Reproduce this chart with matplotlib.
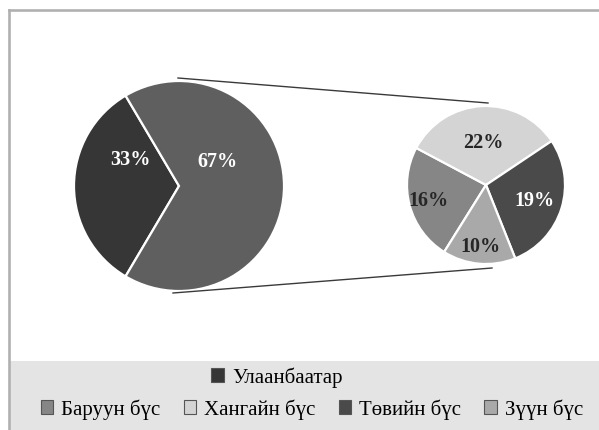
"""
plot.py - pie-of-pie chart (Улаанбаатар vs regions), saved to out.png
"""

import numpy as np
import matplotlib
matplotlib.use("Agg")
import matplotlib.pyplot as plt
from matplotlib.patches import Patch, Rectangle

# ---------------------------
# Data
# ---------------------------
main_labels = ["Улаанбаатар", "Бусад бүс"]
main_values = [33, 67]
main_colors = ["#363636", "#5f5f5f"]

region_labels = ["Баруун бүс", "Хангайн бүс", "Төвийн бүс", "Зүүн бүс"]
region_values = [16, 22, 19, 10]
region_colors = ["#868686", "#d4d4d4", "#4a4a4a", "#a9a9a9"]
region_text_colors = ["#262626", "#262626", "white", "#262626"]
region_label_dist = [0.75, 0.55, 0.64, 0.77]

# ---------------------------
# Layout (pixels, y measured upward)
# ---------------------------
W, H = 599, 431
left_center = (179, H - 187)
left_radius = 105
right_center = (486, H - 186)
right_radius = 79

SERIF = ["Liberation Serif", "DejaVu Serif"]


def main():
    fig = plt.figure(figsize=(W / 100, H / 100), dpi=100)
    ax = fig.add_axes([0, 0, 1, 1])

    # chart frame and legend band
    ax.add_patch(Rectangle((9, 0), W - 9, H - 362, facecolor="#e4e4e4",
                           edgecolor="none", zorder=0))
    ax.plot([8.7, 8.7], [0, H - 10.7], color="#b0b0b0", lw=1.9,
            solid_capstyle="projecting", zorder=1)
    ax.plot([8.7, W], [H - 10.7, H - 10.7], color="#b0b0b0", lw=1.9,
            solid_capstyle="projecting", zorder=1)

    # left pie: the 67% slice is centred on the right side
    start = 180 - main_values[0] / sum(main_values) * 360 / 2
    ax.pie(main_values, colors=main_colors, startangle=start,
           center=left_center, radius=left_radius,
           wedgeprops=dict(edgecolor="white", linewidth=1.6))

    # right pie: breakdown of the 67%
    wedges, _ = ax.pie(region_values, colors=region_colors, startangle=238,
                       counterclock=False, center=right_center,
                       radius=right_radius,
                       wedgeprops=dict(edgecolor="white", linewidth=1.6))

    # percentage labels, left pie
    ax.text(left_center[0] - 49, left_center[1] + 27, "33%", color="white",
            fontsize=14.5, fontweight="bold", family=SERIF,
            ha="center", va="center")
    ax.text(left_center[0] + 38, left_center[1] + 25, "67%", color="white",
            fontsize=14.5, fontweight="bold", family=SERIF,
            ha="center", va="center")

    # percentage labels, right pie (placed along each wedge's mid angle)
    for w, v, c, d in zip(wedges, region_values, region_text_colors, region_label_dist):
        ang = np.deg2rad((w.theta1 + w.theta2) / 2)
        x = right_center[0] + d * right_radius * np.cos(ang)
        y = right_center[1] + d * right_radius * np.sin(ang)
        ax.text(x, y, f"{v}%", color=c, fontsize=14.5, fontweight="bold",
                family=SERIF, ha="center", va="center")

    # connector lines between the pies
    ax.plot([left_center[0] - 1, right_center[0] + 2],
            [left_center[1] + left_radius + 3, right_center[1] + right_radius + 3],
            color="#3a3a3a", lw=1.0)
    ax.plot([left_center[0] - 6, right_center[0] + 6],
            [left_center[1] - left_radius - 2, right_center[1] - right_radius - 4],
            color="#3a3a3a", lw=1.0)

    # legend, two rows
    h1 = [Patch(facecolor=main_colors[0], edgecolor="#555555", lw=0.8)]
    leg1 = ax.legend(h1, [main_labels[0]], loc="center",
                     bbox_to_anchor=(277 / W, 1 - 378 / H), frameon=False,
                     prop=dict(family=SERIF, size=15), handlelength=0.6,
                     handleheight=0.6, handletextpad=0.4)
    ax.add_artist(leg1)
    h2 = [Patch(facecolor=c, edgecolor="#555555", lw=0.8) for c in region_colors]
    ax.legend(h2, region_labels, loc="center", ncol=4,
              bbox_to_anchor=(312 / W, 1 - 410 / H), frameon=False,
              prop=dict(family=SERIF, size=15), handlelength=0.6,
              handleheight=0.6, handletextpad=0.4, columnspacing=1.1)

    ax.set_xlim(0, W)
    ax.set_ylim(0, H)
    ax.set_aspect("auto")
    ax.axis("off")

    fig.savefig("out.png", dpi=100, facecolor="white")
    plt.close(fig)


if __name__ == "__main__":
    main()
